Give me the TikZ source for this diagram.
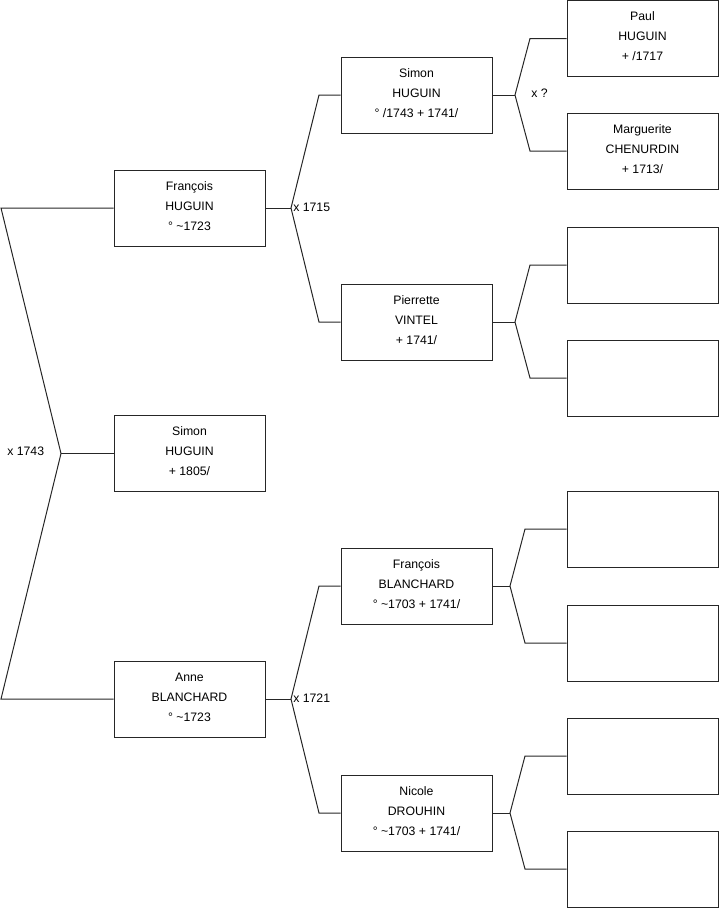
\documentclass[tikz,border=0pt]{standalone}
\usepackage{fontspec}
\setmainfont{Liberation Sans}
\begin{document}
\begin{tikzpicture}[x=0.75pt,y=-0.75pt,
  person/.style={draw=black!85, line width=0.75pt, rectangle, minimum width=113.25pt, minimum height=57pt, inner sep=0pt, align=center, font=\fontsize{9.2pt}{15pt}\selectfont},
  link/.style={draw=black!85, line width=0.75pt, line join=miter},
  lbl/.style={font=\fontsize{9.2pt}{11pt}\selectfont, inner sep=0pt}]
\useasboundingbox (0,0) rectangle (719,908);
% column 1
\node[person] (fh) at (189.5,208) {};
\node[person] (sh) at (189.5,453.5) {};
\node[person] (ab) at (189.5,699) {};
% column 2
\node[person] (sh2) at (416.5,95) {};
\node[person] (pv) at (416.5,322) {};
\node[person] (fb) at (416.5,586) {};
\node[person] (nd) at (416.5,813) {};
% column 3
\node[person] (ph) at (642.5,38.5) {};
\node[person] (mc) at (642.5,151) {};
\node[person] (e1) at (642.5,265) {};
\node[person] (e2) at (642.5,378) {};
\node[person] (e3) at (642.5,529) {};
\node[person] (e4) at (642.5,643) {};
\node[person] (e5) at (642.5,756) {};
\node[person] (e6) at (642.5,869) {};
% box texts (slightly above box centre, as in the reference)
\tikzset{ptext/.style={align=center, inner sep=0pt, font=\fontsize{9.2pt}{15pt}\selectfont}}
\node[ptext] (tfh) at ([yshift=1.5pt]fh.center) {François\\HUGUIN\\° \textasciitilde1723};
\node[ptext] (tsh) at ([yshift=1.5pt]sh.center) {Simon\\HUGUIN\\+ 1805/};
\node[ptext] (tab) at ([yshift=1.5pt]ab.center) {Anne\\BLANCHARD\\° \textasciitilde1723};
\node[ptext] (tsh2) at ([yshift=1.5pt]sh2.center) {Simon\\HUGUIN\\° /1743 + 1741/};
\node[ptext] (tpv) at ([yshift=1.5pt]pv.center) {Pierrette\\VINTEL\\+ 1741/};
\node[ptext] (tfb) at ([yshift=1.5pt]fb.center) {François\\BLANCHARD\\° \textasciitilde1703 + 1741/};
\node[ptext] (tnd) at ([yshift=1.5pt]nd.center) {Nicole\\DROUHIN\\° \textasciitilde1703 + 1741/};
\node[ptext] (tph) at ([yshift=1.5pt]ph.center) {Paul\\HUGUIN\\+ /1717};
\node[ptext] (tmc) at ([yshift=1.5pt]mc.center) {Marguerite\\CHENURDIN\\+ 1713/};
% vertices
\coordinate (a1) at (1,208);
\coordinate (a2) at (61,453.5);
\coordinate (a3) at (1,699);
\coordinate (b0) at (291,208);
\coordinate (b1) at (319,95);
\coordinate (b2) at (319,322);
\coordinate (c0) at (291,699);
\coordinate (c1) at (319,586);
\coordinate (c2) at (319,813);
\coordinate (d0) at (515,95);
\coordinate (d1) at (530,38.5);
\coordinate (d2) at (530,151);
\coordinate (f0) at (515,322);
\coordinate (f1) at (530,265);
\coordinate (f2) at (530,378);
\coordinate (g0) at (510,586);
\coordinate (g1) at (525,529);
\coordinate (g2) at (525,643);
\coordinate (h0) at (510,813);
\coordinate (h1) at (525,756);
\coordinate (h2) at (525,869);
% connectors
\draw[link] (fh.west) -- (a1) -- (a2) -- (a3) -- (ab.west);
\draw[link] (a2) -- (sh.west);
\draw[link] (fh.east) -- (b0);
\draw[link] (sh2.west) -- (b1) -- (b0) -- (b2) -- (pv.west);
\draw[link] (ab.east) -- (c0);
\draw[link] (fb.west) -- (c1) -- (c0) -- (c2) -- (nd.west);
\draw[link] (sh2.east) -- (d0);
\draw[link] (ph.west) -- (d1) -- (d0) -- (d2) -- (mc.west);
\draw[link] (pv.east) -- (f0);
\draw[link] (e1.west) -- (f1) -- (f0) -- (f2) -- (e2.west);
\draw[link] (fb.east) -- (g0);
\draw[link] (e3.west) -- (g1) -- (g0) -- (g2) -- (e4.west);
\draw[link] (nd.east) -- (h0);
\draw[link] (e5.west) -- (h1) -- (h0) -- (h2) -- (e6.west);
% labels
\node[lbl, anchor=west] (l1) at (7,451) {x 1743};
\node[lbl, anchor=west] (l2) at (293,207) {x 1715};
\node[lbl, anchor=west] (l3) at (531,93) {x ?};
\node[lbl, anchor=west] (l4) at (293,698) {x 1721};
\end{tikzpicture}
\end{document}
